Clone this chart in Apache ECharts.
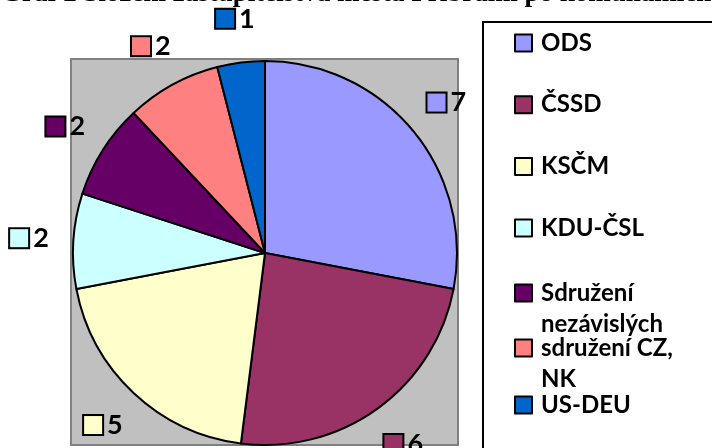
<!DOCTYPE html>
<html>
<head>
<meta charset="utf-8">
<script src="https://cdn.jsdelivr.net/npm/echarts@6/dist/echarts.min.js"></script>
<style>html,body{margin:0;padding:0;background:#fff}</style>
</head>
<body>
<div id="chart" style="width:712px;height:448px"></div>
<script>
// data z grafu
var strany = ["ODS", "ČSSD", "KSČM", "KDU-ČSL", "Sdružení nezávislých", "sdružení CZ, NK", "US-DEU"];
var mandaty = [7, 6, 5, 2, 2, 2, 1];
var barvy = ["#9999ff", "#993366", "#ffffcc", "#ccffff", "#660066", "#ff8080", "#0066cc"];
// zalomeni textu v legende jako v Excelu
var legendaTexty = {
  "Sdružení nezávislých": "\nSdružení\nnezávislých",
  "sdružení CZ, NK": "\nsdružení CZ,\nNK"
};
var nadpis = "Graf 2 Složení zastupitelstva města Příbrami po komunálních volbách";

var myChart = echarts.init(document.getElementById("chart"));

var data = strany.map(function (s, i) {
  return { name: s, value: mandaty[i], itemStyle: { color: barvy[i] } };
});

// ctverecek + cislo u kazde vysece
var rich = {
  n: { fontSize: 27, fontWeight: "bold", fontFamily: "Lato", color: "#000", padding: [0, 0, 0, 5] }
};
barvy.forEach(function (c, i) {
  rich["b" + i] = { width: 18, height: 18, backgroundColor: c, borderColor: "#000", borderWidth: 2 };
});

function legenda(jmena, top, gap) {
  return {
    orient: "vertical",
    left: 514,
    top: top,
    itemGap: gap || 0,
    padding: 0,
    data: jmena,
    icon: "rect",
    itemWidth: 17,
    itemHeight: 17,
    selectedMode: false,
    formatter: function (name) {
      return legendaTexty[name] || name;
    },
    textStyle: {
      fontFamily: "Lato",
      fontWeight: "bold",
      fontSize: 24,
      lineHeight: 31,
      color: "#000",
      padding: [0, 0, 0, 4]
    }
  };
}

myChart.setOption({
  animation: false,
  title: {
    text: nadpis,
    left: 1,
    top: -19,
    padding: 0,
    textStyle: { fontFamily: "Liberation Serif", fontWeight: "bold", fontSize: 27, color: "#000" }
  },
  graphic: [
    // sedy podklad grafu
    { type: "rect", z: -10, shape: { x: 71, y: 59, width: 387, height: 386 },
      style: { fill: "#c0c0c0", stroke: "#808080", lineWidth: 2 } },
    // ramecek legendy
    { type: "rect", z: -10, shape: { x: 483, y: 22, width: 300, height: 500 },
      style: { fill: "#fff", stroke: "#000", lineWidth: 2 } }
  ],
  legend: [
    legenda(strany.slice(0, 4), 27.5, 30.7),
    legenda([strany[4]], 246.5),
    legenda([strany[5]], 301.5),
    legenda([strany[6]], 389.5)
  ],
  series: [
    {
      type: "pie",
      center: [265, 253],
      radius: 192,
      silent: true,
      data: data,
      label: { show: false },
      labelLine: { show: false },
      itemStyle: { borderColor: "#000", borderWidth: 2 },
      emphasis: { disabled: true }
    },
    {
      // pruhledny prstenec jen kvuli popiskum
      type: "pie",
      center: [265, 253],
      radius: [222, 244],
      silent: true,
      data: strany.map(function (s, i) {
        return { name: s, value: mandaty[i] };
      }),
      itemStyle: { color: "rgba(0,0,0,0)", borderWidth: 0 },
      label: {
        show: true,
        position: "inside",
        formatter: function (p) {
          return "{b" + p.dataIndex + "| }{n|" + p.value + "}";
        },
        rich: rich
      },
      labelLine: { show: false },
      emphasis: { disabled: true }
    }
  ]
});
</script>
</body>
</html>
